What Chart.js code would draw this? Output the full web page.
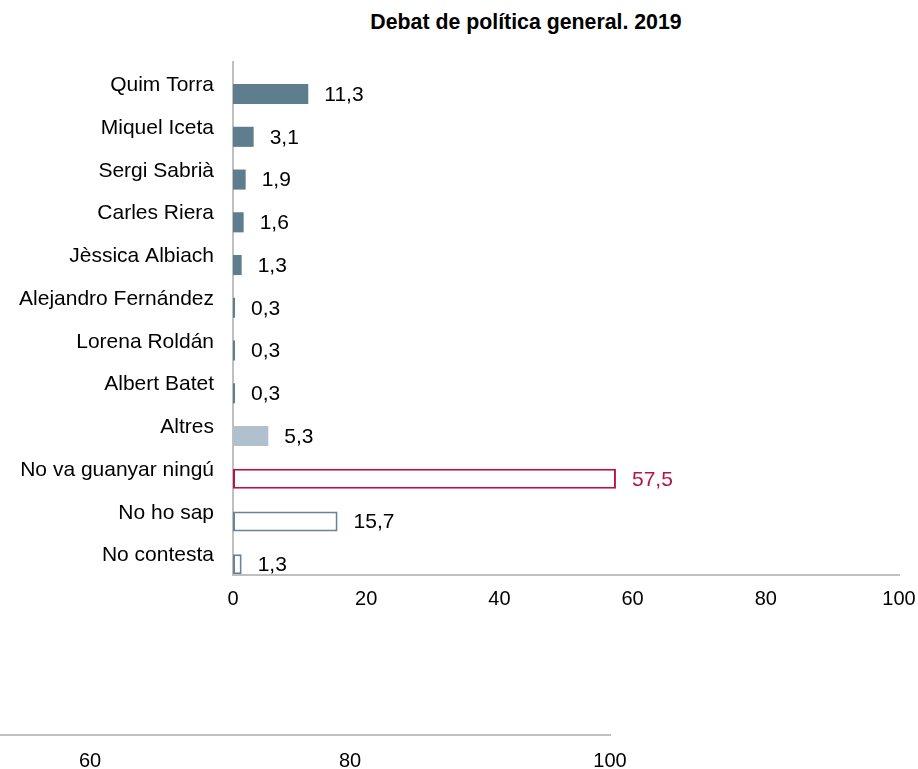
<!DOCTYPE html>
<html>
<head>
<meta charset="utf-8">
<script src="https://cdn.jsdelivr.net/npm/chart.js@4/dist/chart.umd.min.js"></script>
<style>
    html, body { margin: 0; padding: 0; width: 918px; height: 769px; overflow: hidden; background: #fff; }
    #title { position: absolute; top: 10px; left: 526px; transform: translateX(-50%); white-space: nowrap;
             font: bold 21.3px "Liberation Sans", Arial, sans-serif; line-height: 24px; color: #000; }
    #main { position: absolute; left: 0; top: 0; }
    #lower { position: absolute; left: -710px; top: 700px; }
</style>
</head>
<body>
<div id="title">Debat de política general. 2019</div>
<canvas id="main" width="918" height="620"></canvas>
<canvas id="lower" width="1340" height="69"></canvas>
<script>
// categories and values
const categories = ['Quim Torra', 'Miquel Iceta', 'Sergi Sabrià', 'Carles Riera', 'Jèssica Albiach',
    'Alejandro Fernández', 'Lorena Roldán', 'Albert Batet', 'Altres', 'No va guanyar ningú',
    'No ho sap', 'No contesta'];
const values = [11.3, 3.1, 1.9, 1.6, 1.3, 0.3, 0.3, 0.3, 5.3, 57.5, 15.7, 1.3];
const xTicks = [0, 20, 40, 60, 80, 100];

const FONT = '"Liberation Sans", Arial, sans-serif';
const SLATE = 'rgb(94,125,143)';
const LIGHT = 'rgb(176,192,204)';
const RED = 'rgb(181,20,72)';
const OUTLINE = 'rgb(104,132,152)';
const AXIS = 'rgb(192,192,192)';

//-------------------------------------------------
// per bar styles
//-------------------------------------------------
let fills = [], borders = [], widths = [], labelColors = [];
for (let i = 0; i < categories.length; i++) {
    if (i < 8) { fills.push(SLATE); borders.push(SLATE); widths.push(0); labelColors.push('#000'); }
    else if (i == 8) { fills.push(LIGHT); borders.push(LIGHT); widths.push(0); labelColors.push('#000'); }
    else if (i == 9) { fills.push('#fff'); borders.push(RED); widths.push(2); labelColors.push(RED); }
    else { fills.push('#fff'); borders.push(OUTLINE); widths.push(2); labelColors.push('#000'); }
}

// value labels right of the bars
const valueLabels = {
    id: 'valueLabels',
    afterDatasetsDraw(chart) {
        const ctx = chart.ctx;
        const meta = chart.getDatasetMeta(1);
        ctx.save();
        ctx.font = '21px ' + FONT;
        ctx.textAlign = 'left';
        ctx.textBaseline = 'middle';
        meta.data.forEach((bar, i) => {
            ctx.fillStyle = labelColors[i];
            ctx.fillText(values[i].toFixed(1).replace('.', ','), bar.x + 16, bar.y + 1);
        });
        ctx.restore();
    }
};

function setTicks(scale) {
    scale.ticks = xTicks.map(v => ({ value: v }));
}

// keep label overflow from shrinking the plot
function fitX(h) {
    return s => { s.height = h; s.paddingLeft = 0; s.paddingRight = 0; };
}

//-------------------------------------------------
// MAIN CHART
//-------------------------------------------------
new Chart(document.getElementById('main').getContext('2d'), {
    type: 'bar',
    data: {
        labels: categories,
        datasets: [
            // empty slot so the bar sits in the lower half of each row
            { data: categories.map(() => null), backgroundColor: 'rgba(0,0,0,0)' },
            {
                data: values,
                backgroundColor: fills,
                borderColor: borders,
                borderWidth: widths,
                borderSkipped: false
            }
        ]
    },
    options: {
        indexAxis: 'y',
        responsive: false,
        animation: false,
        events: [],
        categoryPercentage: 1.0,
        barPercentage: 0.94,
        layout: { padding: { top: 62, right: 19, left: 0, bottom: 0 } },
        plugins: { legend: { display: false }, tooltip: { enabled: false } },
        scales: {
            x: {
                min: 0, max: 100,
                afterBuildTicks: setTicks,
                afterFit: fitX(45),
                grid: { display: false, drawTicks: false },
                border: { display: true, color: AXIS, width: 2 },
                ticks: { color: '#000', font: { family: FONT, size: 20 }, padding: 12, maxRotation: 0 }
            },
            y: {
                afterFit: s => { s.width = 233; s.paddingTop = 0; s.paddingBottom = 0; },
                grid: { display: false, drawTicks: false },
                border: { display: true, color: AXIS, width: 2 },
                ticks: { color: '#000', font: { family: FONT, size: 21 }, padding: 19, labelOffset: 2, autoSkip: false }
            }
        }
    },
    plugins: [valueLabels]
});

//-------------------------------------------------
// LOWER AXIS FRAGMENT
//-------------------------------------------------
new Chart(document.getElementById('lower').getContext('2d'), {
    type: 'bar',
    data: { labels: [], datasets: [{ data: [] }] },
    options: {
        indexAxis: 'y',
        responsive: false,
        animation: false,
        events: [],
        layout: { padding: { top: 0, right: 20, left: 20, bottom: 0 } },
        plugins: { legend: { display: false }, tooltip: { enabled: false } },
        scales: {
            x: {
                min: 0, max: 100,
                afterBuildTicks: setTicks,
                afterFit: fitX(34),
                grid: { display: false, drawTicks: false },
                border: { display: true, color: AXIS, width: 2 },
                ticks: { color: '#000', font: { family: FONT, size: 20 }, padding: 14, maxRotation: 0 }
            },
            y: { display: false }
        }
    }
});
</script>
</body>
</html>
